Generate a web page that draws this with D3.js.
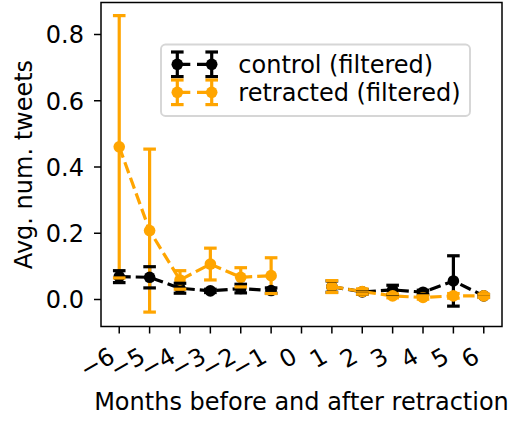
<script src="https://d3js.org/d3.v7.min.js"></script>
<style>
  body { margin: 0; background: white; }
  text { font-family: "DejaVu Sans", sans-serif; }
</style>
<body>
<svg id="frame"></svg>
</body>
<script>
  // months before/after retraction (0 has no data)
  var months = [-6, -5, -4, -3, -2, -1, 1, 2, 3, 4, 5, 6];
  var tickMonths = [-6, -5, -4, -3, -2, -1, 0, 1, 2, 3, 4, 5, 6];
  var yTicks = [0.0, 0.2, 0.4, 0.6, 0.8];

  var controlMean = [0.069, 0.067, 0.034, 0.026, 0.033, 0.027, 0.039, 0.023, 0.029, 0.022, 0.056, 0.011];
  var controlErr  = [0.018, 0.032, 0.015, 0.005, 0.013, 0.008, 0.017, 0.007, 0.014, 0.006, 0.076, 0.004];
  var retractMean = [0.461, 0.208, 0.059, 0.107, 0.067, 0.072, 0.039, 0.024, 0.011, 0.006, 0.011, 0.011];
  var retractErr  = [0.396, 0.246, 0.028, 0.048, 0.029, 0.054, 0.018, 0.008, 0.006, 0.005, 0.007, 0.005];

  var seriesNames = ["control (filtered)", "retracted (filtered)"];
  var seriesColors = ["#000000", "#ffa500"];

  var width = 511, height = 421;
  var svg = d3.select('#frame').attr('width', width).attr('height', height);

  var x = d3.scaleLinear().domain([-6.6, 6.6]).range([101, 502]);
  var y = d3.scaleLinear().domain([-0.0815, 0.8966]).range([326.5, 2.5]);

  var fs = 24;
  var lw = 3.2;
  var capHalf = 6.3;
  var markR = 5.8;

  var series = [
    {name: seriesNames[0], color: seriesColors[0], mean: controlMean, err: controlErr},
    {name: seriesNames[1], color: seriesColors[1], mean: retractMean, err: retractErr}
  ];
  series.forEach(function(s) {
    s.pts = months.map(function(m, i) { return {m: m, v: s.mean[i], e: s.err[i]}; });
  });

  var plot = svg.append('g');

  // error bars first (below the data lines)
  series.forEach(function(s) {
    plot.append('g').selectAll('line')
      .data(s.pts).enter().append('line')
      .attr('x1', function(d){ return x(d.m); })
      .attr('x2', function(d){ return x(d.m); })
      .attr('y1', function(d){ return y(d.v - d.e); })
      .attr('y2', function(d){ return y(d.v + d.e); })
      .attr('stroke', s.color)
      .attr('stroke-width', lw);
  });

  // dashed lines + markers
  var lineGen = d3.line().x(function(d){ return x(d.m); }).y(function(d){ return y(d.v); });
  series.forEach(function(s) {
    // split at the gap (month 0)
    var before = s.pts.filter(function(d){ return d.m < 0; });
    var after = s.pts.filter(function(d){ return d.m > 0; });
    [before, after].forEach(function(part) {
      plot.append('path')
        .attr('d', lineGen(part))
        .attr('fill', 'none')
        .attr('stroke', s.color)
        .attr('stroke-width', lw)
        .attr('stroke-dasharray', '11.5,5');
    });
    plot.append('g').selectAll('circle')
      .data(s.pts).enter().append('circle')
      .attr('cx', function(d){ return x(d.m); })
      .attr('cy', function(d){ return y(d.v); })
      .attr('r', markR)
      .attr('fill', s.color);
  });

  // caps on top
  series.forEach(function(s) {
    var caps = [];
    s.pts.forEach(function(d) { caps.push([d.m, d.v - d.e]); caps.push([d.m, d.v + d.e]); });
    plot.append('g').selectAll('line')
      .data(caps).enter().append('line')
      .attr('x1', function(d){ return x(d[0]) - capHalf; })
      .attr('x2', function(d){ return x(d[0]) + capHalf; })
      .attr('y1', function(d){ return y(d[1]); })
      .attr('y2', function(d){ return y(d[1]); })
      .attr('stroke', s.color)
      .attr('stroke-width', lw);
  });

  // frame
  svg.append('rect')
    .attr('x', x.range()[0]).attr('y', y.range()[1])
    .attr('width', x.range()[1] - x.range()[0])
    .attr('height', y.range()[0] - y.range()[1])
    .attr('fill', 'none')
    .attr('stroke', 'black')
    .attr('stroke-width', 1.5);

  // y axis
  var yAxis = svg.append('g');
  yAxis.selectAll('line').data(yTicks).enter().append('line')
    .attr('x1', 101).attr('x2', 94)
    .attr('y1', function(d){ return y(d); })
    .attr('y2', function(d){ return y(d); })
    .attr('stroke', 'black').attr('stroke-width', 1.5);
  yAxis.selectAll('text').data(yTicks).enter().append('text')
    .attr('x', 84)
    .attr('y', function(d){ return y(d) + 8.8; })
    .attr('text-anchor', 'end')
    .attr('font-size', fs)
    .text(function(d){ return d3.format('.1f')(d); });

  // x axis, rotated labels
  var xAxis = svg.append('g');
  xAxis.selectAll('line').data(tickMonths).enter().append('line')
    .attr('x1', function(d){ return x(d); })
    .attr('x2', function(d){ return x(d); })
    .attr('y1', 326.5).attr('y2', 333.5)
    .attr('stroke', 'black').attr('stroke-width', 1.5);
  xAxis.selectAll('text').data(tickMonths).enter().append('text')
    .attr('text-anchor', 'end')
    .attr('font-size', fs)
    .attr('transform', function(d){ return 'translate(' + (x(d) - 2.7) + ',361) rotate(-30)'; })
    .text(function(d){ return d < 0 ? '\u2212' + Math.abs(d) : d; });

  svg.append('text')
    .attr('x', 301.5).attr('y', 410)
    .attr('text-anchor', 'middle')
    .attr('font-size', fs)
    .text('Months before and after retraction');

  svg.append('text')
    .attr('transform', 'translate(32,164.5) rotate(-90)')
    .attr('text-anchor', 'middle')
    .attr('font-size', fs)
    .text('Avg. num. tweets');

  // legend
  var leg = svg.append('g');
  leg.append('rect')
    .attr('x', 161).attr('y', 44.5)
    .attr('width', 309).attr('height', 71.5)
    .attr('rx', 4.5)
    .attr('fill', 'white').attr('fill-opacity', 0.8)
    .attr('stroke', '#d6d6d6').attr('stroke-width', 1.9);
  var rowY = [64.3, 92.3];
  var hx = [177.3, 211.7];
  series.forEach(function(s, i) {
    var g = leg.append('g');
    g.append('line')
      .attr('x1', hx[0]).attr('x2', hx[1])
      .attr('y1', rowY[i]).attr('y2', rowY[i])
      .attr('stroke', s.color).attr('stroke-width', lw)
      .attr('stroke-dasharray', '13,6.7');
    hx.forEach(function(px) {
      g.append('line')
        .attr('x1', px).attr('x2', px)
        .attr('y1', rowY[i] - 12.3).attr('y2', rowY[i] + 12.3)
        .attr('stroke', s.color).attr('stroke-width', lw);
      g.append('line')
        .attr('x1', px - capHalf).attr('x2', px + capHalf)
        .attr('y1', rowY[i] - 12.3).attr('y2', rowY[i] - 12.3)
        .attr('stroke', s.color).attr('stroke-width', lw);
      g.append('line')
        .attr('x1', px - capHalf).attr('x2', px + capHalf)
        .attr('y1', rowY[i] + 12.3).attr('y2', rowY[i] + 12.3)
        .attr('stroke', s.color).attr('stroke-width', lw);
      g.append('circle')
        .attr('cx', px).attr('cy', rowY[i]).attr('r', markR)
        .attr('fill', s.color);
    });
    g.append('text')
      .attr('x', 238.3).attr('y', rowY[i] + 8.4)
      .attr('font-size', fs)
      .text(s.name);
  });
</script>
